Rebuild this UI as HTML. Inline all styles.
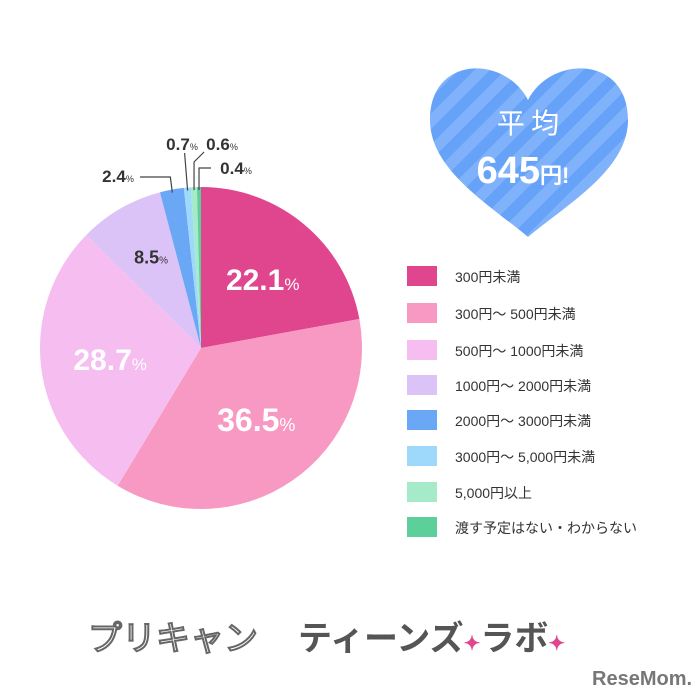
<!DOCTYPE html>
<html><head><meta charset="utf-8"><style>
body{margin:0;background:#fff;}
#wrap{position:relative;width:700px;height:700px;overflow:hidden;font-family:"Liberation Sans","Noto Sans CJK JP",sans-serif;}
.leg{position:absolute;left:407px;height:20px;}
.sw{position:absolute;left:0;top:0;width:30px;height:20px;}
.lt{position:absolute;left:48px;top:1px;font-size:14px;color:#333;white-space:nowrap;}
</style></head><body>
<div id="wrap">
<svg id="pie" width="700" height="700" style="position:absolute;left:0;top:0">
<defs>
<pattern id="stripe" width="22" height="22" patternUnits="userSpaceOnUse" patternTransform="rotate(45)">
<rect width="22" height="22" fill="#7fb2fb"/><rect width="11" height="22" fill="#66a2f8"/>
</pattern>
</defs>
<path d="M528,100 C505,55 430,55 430,120 C430,170 490,205 528,237 C566,205 628,170 628,120 C628,55 551,55 528,100 Z" fill="url(#stripe)"/>
<text x="528" y="133" font-size="28" fill="#fff" text-anchor="middle" font-family="Noto Sans CJK JP,sans-serif">平 均</text>
<text x="523" y="183" font-size="38" font-weight="bold" fill="#fff" text-anchor="middle" font-family="Liberation Sans Narrow,Liberation Sans,sans-serif">645<tspan font-size="22">円!</tspan></text>
<text x="88" y="650" font-size="34" fill="#fff" stroke="#666" stroke-width="2" font-family="Noto Sans CJK JP,sans-serif">プリキャン</text>
<text x="298" y="650" font-size="34" fill="#555" font-weight="bold" font-family="Noto Sans CJK JP,sans-serif">ティーンズ<tspan fill="#e0468e" font-size="20">✦</tspan>ラボ<tspan fill="#e0468e" font-size="20">✦</tspan></text>
<text x="592" y="685" font-size="20" fill="#777" font-weight="bold" font-family="Liberation Sans Narrow,Liberation Sans,sans-serif">ReseMom.</text>
</svg>
<div id="legend"></div>
</div>
<script>
const categories=["300円未満","300円～ 500円未満","500円～ 1000円未満","1000円～ 2000円未満","2000円～ 3000円未満","3000円～ 5,000円未満","5,000円以上","渡す予定はない・わからない"];
const values=[22.1,36.5,28.7,8.5,2.4,0.7,0.6,0.4];
const colors=["#e0468e","#f799c2","#f5bdf0","#dcc3f7","#6aa8f5","#9ed9fb","#a5ebc9","#5ccf9a"];
const cx=201,cy=348,r=161;
const svg=document.getElementById('pie');
const NS="http://www.w3.org/2000/svg";
const total=values.reduce((a,b)=>a+b,0);
function pt(frac,rad){const a=frac*2*Math.PI;return [cx+rad*Math.sin(a),cy-rad*Math.cos(a)];}
let acc=0;
const labelPos=[];
values.forEach((v,i)=>{
  const f0=acc/total,f1=(acc+v)/total;acc+=v;
  const p0=pt(f0,r),p1=pt(f1,r);
  const large=(f1-f0)>0.5?1:0;
  const p=document.createElementNS(NS,'path');
  p.setAttribute('d',`M${cx},${cy} L${p0[0]},${p0[1]} A${r},${r} 0 ${large} 1 ${p1[0]},${p1[1]} Z`);
  p.setAttribute('fill',colors[i]);
  
  
  svg.appendChild(p);
  labelPos.push((f0+f1)/2);
});
function addText(x,y,txt,size,fill,name){
  const t=document.createElementNS(NS,'text');
  t.setAttribute('x',x);t.setAttribute('y',y);t.setAttribute('fill',fill);
  t.setAttribute('font-size',size);t.setAttribute('font-weight','bold');
  t.setAttribute('text-anchor','middle');
  t.setAttribute('font-family','Liberation Sans Narrow,Liberation Sans,sans-serif');
  t.innerHTML=txt+'<tspan font-size="'+Math.round(size*0.55)+'" font-weight="normal">%</tspan>';
  
  
  svg.appendChild(t);
}
const inner=[[0.55,"#fff",30],[0.55,"#fff",32],[0.6,"#fff",30],[0.68,"#333",18]];
for(let i=0;i<4;i++){const p=pt(labelPos[i],r*inner[i][0]);addText(p[0]+5,p[1]+10,values[i].toFixed(1),inner[i][2],inner[i][1],i);}
// small leader labels
const small=[[4,118,182],[5,182,150],[6,222,150],[7,236,174]];
small.forEach(([i,lx,ly])=>{
  const e=pt(labelPos[i],r-3);
  const l=document.createElementNS(NS,'polyline');
  let pts;
  if(i==4)pts=`${lx+22},177 ${e[0]-2},177 ${e[0]},${e[1]}`;
  else if(i==5)pts=`${e[0]},${e[1]} ${e[0]-3},153`;
  else if(i==6)pts=`${e[0]},${e[1]} ${e[0]},162 ${e[0]+10},152`;
  else pts=`${e[0]},${e[1]} ${e[0]},168 ${e[0]+12},168`;
  l.setAttribute('points',pts);l.setAttribute('fill','none');l.setAttribute('stroke','#444');l.setAttribute('stroke-width','1.2');
  
  
  svg.appendChild(l);
  addText(lx,ly,values[i].toFixed(1),17,"#333",i);
});
const leg=document.getElementById('legend');
const rows=[266,303,340,375,410,446,482,517];
categories.forEach((c,i)=>{
  const d=document.createElement('div');d.className='leg';d.style.top=rows[i]+'px';
  
  
  d.innerHTML='<div class="sw" style="background:'+colors[i]+'"></div><div class="lt">'+c+'</div>';
  leg.appendChild(d);
});
</script>
</body></html>
